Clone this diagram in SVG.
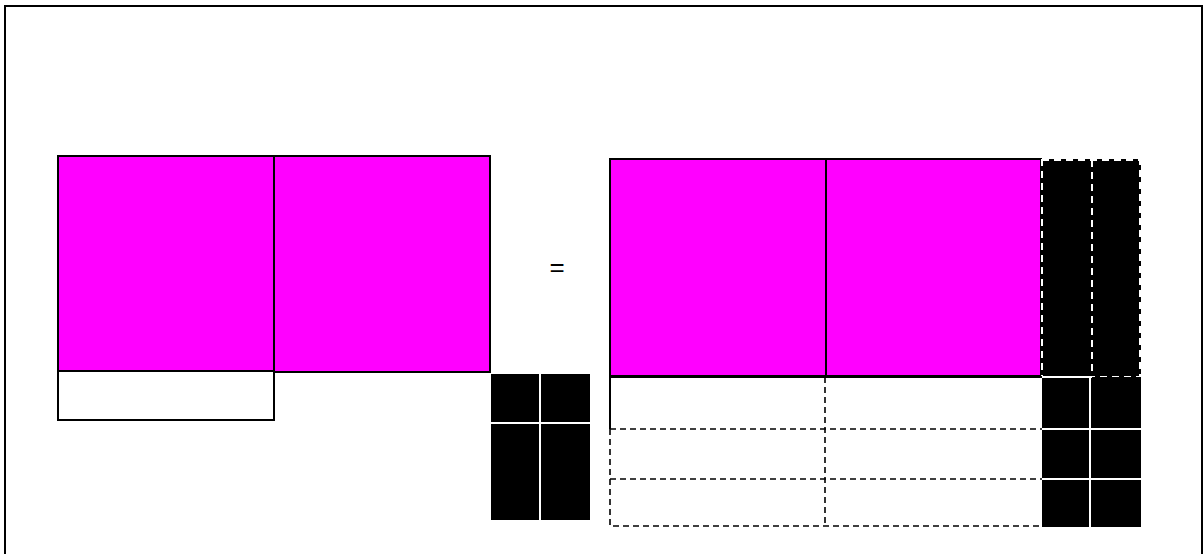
<svg xmlns="http://www.w3.org/2000/svg" width="1204" height="554" viewBox="0 0 1204 554">
<style>
.pk{fill:#ff00ff;stroke:#000;stroke-width:2}
.wr{fill:#fff;stroke:#000;stroke-width:2}
.bk{fill:#000;stroke:none}
.wl{stroke:#fff;stroke-width:2;fill:none}
.wd{stroke:#fff;stroke-width:2;fill:none;stroke-dasharray:7,5}
.kd{stroke:#000;stroke-width:1.6;fill:none;stroke-dasharray:6,4}
.eq{font-family:"Liberation Sans",Arial,sans-serif;font-size:26px;fill:#000}
</style>
<rect x="0" y="0" width="1204" height="554" fill="#fff"/>
<rect x="5" y="6" width="1197" height="560" fill="none" stroke="#000" stroke-width="2"/>
<g id="left">
<rect class="pk" x="58" y="156" width="216" height="215"/>
<rect class="pk" x="274" y="156" width="216" height="216"/>
<rect class="wr" x="58" y="371" width="216" height="49"/>
</g>
<g id="leftblack">
<rect class="bk" x="491" y="374" width="99" height="146"/>
<line class="wl" x1="540" y1="374" x2="540" y2="520"/>
<line class="wl" x1="491" y1="423" x2="590" y2="423"/>
</g>
<g id="equals"><text class="eq" x="557" y="276" text-anchor="middle">=</text></g>
<g id="right">
<rect class="pk" x="610" y="159" width="216" height="217"/>
<rect class="pk" x="826" y="159" width="215" height="217"/>
</g>
<g id="rightblack">
<rect class="bk" x="1041" y="159" width="100" height="218"/>
<rect class="wd" x="1042" y="160" width="98" height="217"/>
<line class="wd" x1="1092" y1="160" x2="1092" y2="377"/>
<rect class="bk" x="1042" y="377" width="99" height="150"/>
<line class="wl" x1="1090" y1="377" x2="1090" y2="527"/>
<line class="wl" x1="1042" y1="429" x2="1141" y2="429"/>
<line class="wl" x1="1042" y1="479" x2="1141" y2="479"/>
<line class="wl" x1="1042" y1="377" x2="1092" y2="377"/>
</g>
<g id="rows">
<path d="M610 429 V377 H1042" fill="none" stroke="#000" stroke-width="2"/>
<path class="kd" d="M610 429 V526 H1042"/>
<line class="kd" x1="825" y1="377" x2="825" y2="526"/>
<line class="kd" x1="610" y1="429" x2="1042" y2="429"/>
<line class="kd" x1="610" y1="479" x2="1042" y2="479"/>
</g>
</svg>
